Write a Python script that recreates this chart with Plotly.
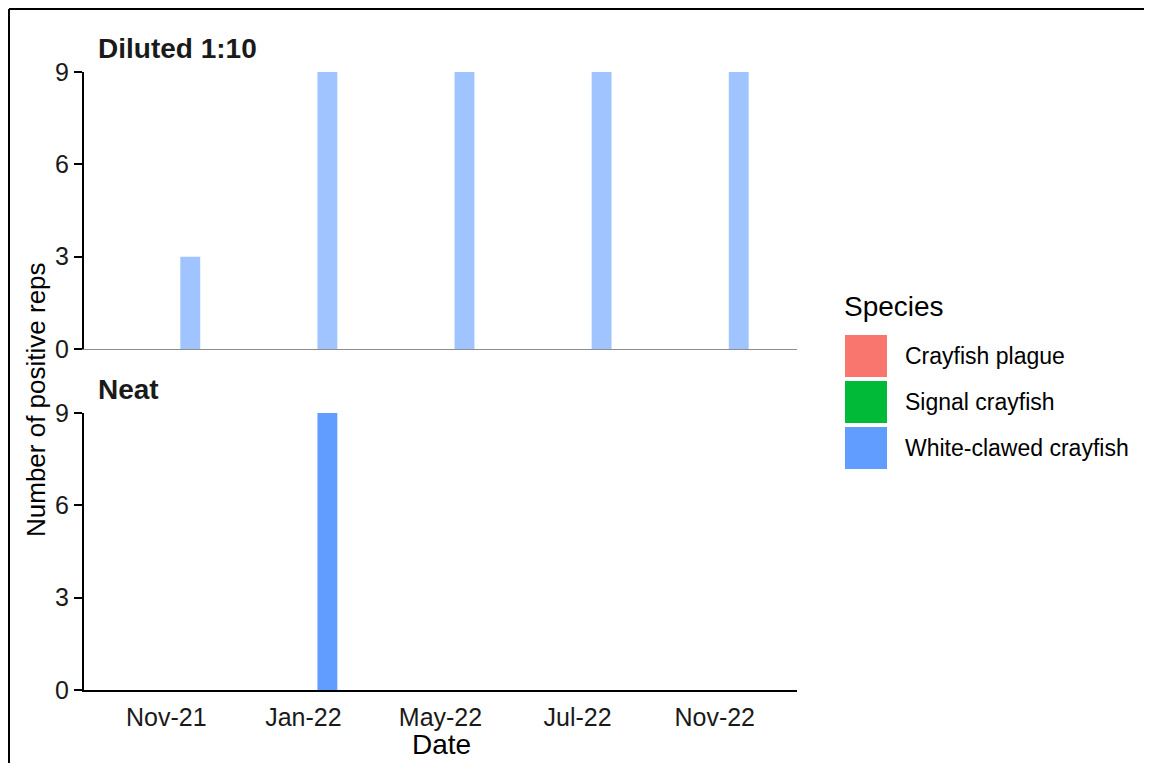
import plotly.graph_objects as go
from plotly.subplots import make_subplots

dates = ["Nov-21", "Jan-22", "May-22", "Jul-22", "Nov-22"]
species = ["Crayfish plague", "Signal crayfish", "White-clawed crayfish"]
colors = ["#F8766D", "#00BA38", "#619CFF"]
panels = ["Diluted 1:10", "Neat"]
diluted = {
    "Crayfish plague": [0, 0, 0, 0, 0],
    "Signal crayfish": [0, 0, 0, 0, 0],
    "White-clawed crayfish": [3, 9, 9, 9, 9],
}
neat = {
    "Crayfish plague": [0, 0, 0, 0, 0],
    "Signal crayfish": [0, 0, 0, 0, 0],
    "White-clawed crayfish": [0, 9, 0, 0, 0],
}
panel_data = [diluted, neat]
panel_opacity = [0.6, 1.0]

# the page body adds an 8px margin; work in reference pixels and shift
OFF = 8
W, H = 1152 - 2 * OFF, 771 - 2 * OFF
L, R, T, B = 84 - OFF, 797 - OFF, 72 - OFF, 690 - OFF
FONT = "Liberation Sans, Arial, sans-serif"

fig = make_subplots(rows=2, cols=1, shared_xaxes=False, vertical_spacing=0.1)

bw = 0.145
slot = 0.175
for pi, data in enumerate(panel_data):
    for si, sp in enumerate(species):
        fig.add_trace(
            go.Bar(
                x=dates, y=data[sp], name=sp,
                width=bw, offset=(si - 1) * slot - bw / 2,
                marker=dict(color=colors[si], opacity=panel_opacity[pi], line=dict(width=0)),
                showlegend=False,
            ),
            row=pi + 1, col=1,
        )

def px_x(px):
    return (px - OFF - L) / (R - L)

def px_y(py):
    return (B - (py - OFF)) / (B - T)

top_dom = [px_y(349), 1.0]
bot_dom = [0.0, px_y(413)]

xcommon = dict(type="category", categoryorder="array", categoryarray=dates,
               range=[-0.6, 4.6], showgrid=False, zeroline=False, domain=[0, 1])
fig.update_layout(
    xaxis=dict(**xcommon, showline=True, linecolor="#8c8c8c", linewidth=1.2,
               showticklabels=False, ticks="", anchor="y"),
    xaxis2=dict(**xcommon, showline=True, linecolor="black", linewidth=2.2,
                showticklabels=True, ticks="outside", ticklen=4, tickcolor="rgba(0,0,0,0)",
                anchor="y2",
                tickfont=dict(family=FONT, size=25, color="#1a1a1a")),
)
ycommon = dict(range=[0, 9], tickvals=[0, 3, 6, 9], showgrid=False, zeroline=False,
               showline=True, linecolor="black", linewidth=2.2, ticks="outside",
               ticklen=8, tickwidth=2.2, tickcolor="black",
               tickfont=dict(family=FONT, size=25, color="#1a1a1a"))
fig.update_layout(yaxis=dict(**ycommon, domain=top_dom, anchor="x"),
                  yaxis2=dict(**ycommon, domain=bot_dom, anchor="x2"))

annotations = []
for pi, title in enumerate(panels):
    ypx = 48 if pi == 0 else 389
    annotations.append(dict(text=f"<b>{title}</b>", x=px_x(96), y=px_y(ypx), xref="paper", yref="paper",
                            xanchor="left", yanchor="middle", showarrow=False,
                            font=dict(family=FONT, size=28, color="#1a1a1a")))
annotations.append(dict(text="Number of positive reps", x=px_x(36), y=px_y(400), xref="paper", yref="paper",
                        textangle=-90, xanchor="center", yanchor="middle", showarrow=False,
                        font=dict(family=FONT, size=26, color="black")))
annotations.append(dict(text="Date", x=px_x(441), y=px_y(745), xref="paper", yref="paper",
                        xanchor="center", yanchor="middle", showarrow=False,
                        font=dict(family=FONT, size=28, color="black")))
annotations.append(dict(text="Species", x=px_x(842), y=px_y(306), xref="paper", yref="paper",
                        xanchor="left", yanchor="middle", showarrow=False,
                        font=dict(family=FONT, size=28, color="black")))

shapes = []
key_left, key_size, key_step, key_top = 845, 42, 46, 335
for si, sp in enumerate(species):
    y0 = key_top + si * key_step
    shapes.append(dict(type="rect", xref="paper", yref="paper",
                       x0=px_x(key_left), x1=px_x(key_left + key_size),
                       y0=px_y(y0 + key_size), y1=px_y(y0),
                       fillcolor=colors[si], line=dict(width=0)))
    annotations.append(dict(text=sp, x=px_x(903), y=px_y(y0 + key_size / 2), xref="paper", yref="paper",
                            xanchor="left", yanchor="middle", showarrow=False,
                            font=dict(family=FONT, size=23, color="black")))

# outer border (left and top visible)
shapes.append(dict(type="line", xref="paper", yref="paper", x0=px_x(9), x1=px_x(9),
                   y0=px_y(771 - OFF), y1=px_y(9), line=dict(color="black", width=2)))
shapes.append(dict(type="line", xref="paper", yref="paper", x0=px_x(9), x1=px_x(1152 - OFF),
                   y0=px_y(9), y1=px_y(9), line=dict(color="black", width=2)))

fig.update_layout(
    width=W, height=H, autosize=False,
    margin=dict(l=L, r=W - R, t=T, b=H - B),
    paper_bgcolor="white", plot_bgcolor="white",
    showlegend=False, barmode="overlay",
    annotations=annotations, shapes=shapes,
    font=dict(family=FONT),
)

fig.write_html("out.html")
